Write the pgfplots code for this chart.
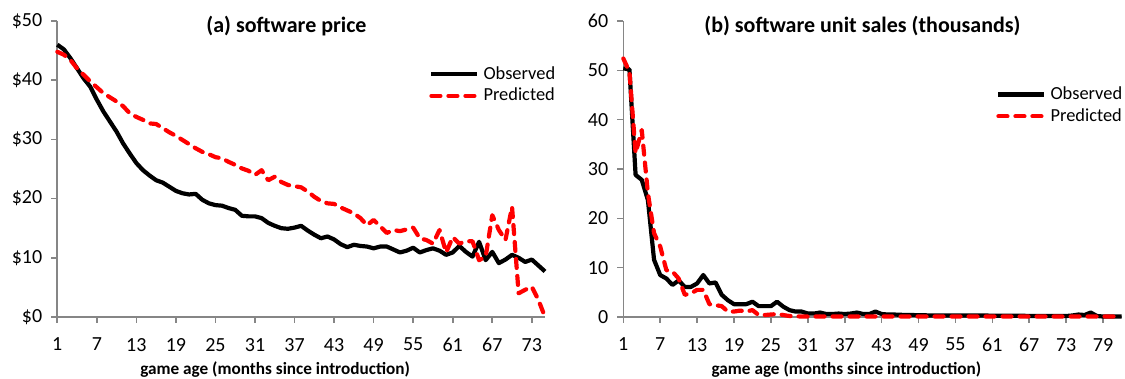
\documentclass[border=0pt]{standalone}
\usepackage{pgfplots}
\usepackage{pgfplotstable}
\pgfplotsset{compat=1.18}
\usepackage{fontspec}
\setmainfont{Carlito}
\definecolor{axgray}{HTML}{868686}
\definecolor{predred}{HTML}{FF0000}

\pgfplotstableread{
m obs pred
1 46 44.8
2 45.2 44.3
3 43.7 43.4
4 42 42
5 40.3 40.9
6 38.9 39.8
7 36.7 38.8
8 34.7 37.8
9 33 37.1
10 31.3 36.4
11 29.3 35.6
12 27.6 34.4
13 26 33.8
14 24.8 33.3
15 23.9 32.7
16 23.1 32.6
17 22.7 31.9
18 22 31.2
19 21.3 30.6
20 20.9 29.9
21 20.7 29.2
22 20.8 28.5
23 19.8 27.9
24 19.2 27.5
25 18.9 27
26 18.8 26.8
27 18.4 26.2
28 18.1 25.7
29 17.1 25.1
30 17 24.7
31 17 24
32 16.7 24.8
33 15.9 23.1
34 15.4 23.7
35 15 22.8
36 14.9 22.3
37 15.1 22.1
38 15.4 21.9
39 14.6 21.2
40 13.9 20.3
41 13.3 19.6
42 13.6 19.2
43 13.1 19.1
44 12.3 18.5
45 11.8 18
46 12.2 17.5
47 12 16.7
48 11.9 15.5
49 11.6 16.4
50 11.9 15.3
51 11.9 14.2
52 11.4 14.7
53 10.9 14.5
54 11.2 14.8
55 11.7 15.1
56 10.9 13.3
57 11.3 13
58 11.6 12.4
59 11.2 14.7
60 10.5 10.9
61 10.9 13.5
62 12 12.4
63 11 12.8
64 10.2 12.8
65 12.7 9.6
66 9.6 10.2
67 11 17.2
68 9.1 14.7
69 9.7 13
70 10.5 18.6
71 10 4
72 9.3 4.6
73 9.7 5.1
74 8.7 2.9
75 7.7 0
}\pricetable

\pgfplotstableread{
m obs pred
1 50.4 52.4
2 50.2 49.7
3 28.8 33.2
4 27.8 37.9
5 23.7 25.1
6 11.6 17
7 8.5 14.3
8 7.8 9.5
9 6.5 9.2
10 7.4 7.8
11 6.1 4.5
12 6.1 4.8
13 6.8 5.5
14 8.5 5.5
15 6.8 2.6
16 7 2.4
17 4.5 2.2
18 3.4 1.1
19 2.6 1.1
20 2.6 1.3
21 2.6 1.1
22 3.1 1.4
23 2.2 0.4
24 2.2 0.4
25 2.2 0.5
26 3.1 0.6
27 2.1 0.4
28 1.4 0.2
29 1.1 0.15
30 1.1 0.1
31 0.7 0.1
32 0.7 0.1
33 0.9 0.1
34 0.6 0.1
35 0.6 0.1
36 0.7 0.1
37 0.6 0.1
38 0.7 0.1
39 0.9 0.1
40 0.6 0.1
41 0.6 0.1
42 1.1 0.1
43 0.6 0.1
44 0.5 0.1
45 0.5 0.1
46 0.45 0.1
47 0.4 0.1
48 0.4 0.1
49 0.35 0.1
50 0.35 0.1
51 0.3 0.1
52 0.3 0.1
53 0.3 0.1
54 0.3 0.1
55 0.3 0.1
56 0.3 0.1
57 0.3 0.1
58 0.3 0.1
59 0.3 0.1
60 0.3 0.1
61 0.25 0.1
62 0.25 0.1
63 0.25 0.1
64 0.25 0.1
65 0.25 0.1
66 0.25 0.1
67 0.2 0.1
68 0.2 0.1
69 0.2 0.1
70 0.2 0.1
71 0.2 0.1
72 0.2 0.1
73 0.2 0.1
74 0.3 0.1
75 0.5 0.1
76 0.4 0.1
77 0.9 0.1
78 0.2 0.1
79 0.1 0.1
80 0.1 0.1
81 0.1 0.1
82 0.1 0.1
}\salestable

\pgfplotsset{
  panel/.style={
    scale only axis,
    height=148pt,
    axis x line*=bottom,
    axis y line*=left,
    axis line style={axgray, line width=0.8pt, -},
    tick style={axgray, line width=0.8pt},
    major tick length=3pt,
    xtick pos=bottom, ytick pos=left,
    tick align=outside,
    clip=false,
    ymin=0,
    /pgf/number format/assume math mode=true,
    ticklabel style={font=\fontsize{10}{12}\selectfont, text=black},
    xticklabel style={yshift=-4pt},
    yticklabel style={xshift=-1pt},
    xlabel style={font=\fontsize{8.6}{10}\selectfont\bfseries, yshift=2pt, xshift=-13pt},
    title style={font=\fontsize{11}{13}\selectfont\bfseries, anchor=north},
    legend style={draw=none, fill=none, font=\fontsize{9.2}{10.5}\selectfont,
      anchor=north west, row sep=-1pt, inner sep=0pt},
    legend cell align=left,
    legend image code/.code={\draw[##1] (0pt,0pt) -- (23pt,0pt);},
    xlabel={game age (months since introduction)},
  },
  obsline/.style={black, line width=2.1pt, line join=round},
  predline/.style={predred, line width=2.1pt, dash pattern=on 4.5pt off 4pt, line cap=round, line join=round},
}

\begin{document}
\begin{tikzpicture}
\path[use as bounding box] (0,0) rectangle (562.5pt,189.5pt);
\begin{axis}[panel,
  at={(28.65pt,31pt)}, anchor=origin,
  width=243.85pt,
  xmin=1, xmax=75,
  xtick={1,7,...,73},
  ymax=50,
  ytick={0,10,20,30,40,50},
  yticklabels={\$0,\$10,\$20,\$30,\$40,\$50},
  title={(a) software price},
  title style={at={(rel axis cs:0.47,1.0)}},
  legend style={at={(rel axis cs:0.762,0.862)}},
]
\addplot[obsline] table[x=m, y=obs] {\pricetable};
\addlegendentry{Observed}
\addplot[predline] table[x=m, y=pred] {\pricetable};
\addlegendentry{Predicted}
\end{axis}

\begin{axis}[panel,
  at={(311.65pt,31pt)}, anchor=origin,
  width=249.1pt,
  xmin=1, xmax=82,
  xtick={1,7,...,79},
  ymax=60,
  ytick={0,10,...,60},
  title={(b) software unit sales (thousands)},
  title style={at={(rel axis cs:0.48,1.0)}},
  legend style={at={(rel axis cs:0.748,0.793)}},
]
\addplot[obsline] table[x=m, y=obs] {\salestable};
\addlegendentry{Observed}
\addplot[predline] table[x=m, y=pred] {\salestable};
\addlegendentry{Predicted}
\end{axis}
\end{tikzpicture}
\end{document}
